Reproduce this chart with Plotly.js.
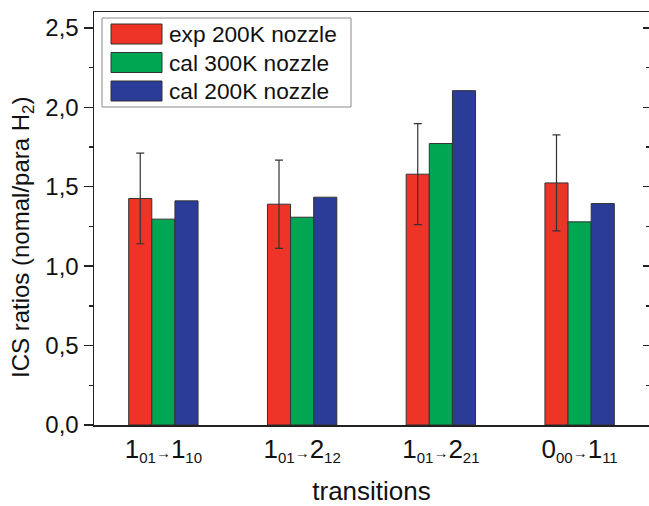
<!DOCTYPE html>
<html>
<head>
<meta charset="utf-8">
<script src="https://cdn.plot.ly/plotly-3.0.1.min.js"></script>
<style>html,body{margin:0;padding:0;background:#fff;overflow:hidden;}</style>
</head>
<body>
<div id="chart" style="width:649px;height:506px;"></div>
<script>
// ---- data ----
var categories = [0, 1, 2, 3];
var tickLabels = [
  "1<sub><span style='font-size:15px'>01</span></sub><span style='font-size:15px'>→</span>1<sub><span style='font-size:15px'>10</span></sub>",
  "1<sub><span style='font-size:15px'>01</span></sub><span style='font-size:15px'>→</span>2<sub><span style='font-size:15px'>12</span></sub>",
  "1<sub><span style='font-size:15px'>01</span></sub><span style='font-size:15px'>→</span>2<sub><span style='font-size:15px'>21</span></sub>",
  "0<sub><span style='font-size:15px'>00</span></sub><span style='font-size:15px'>→</span>1<sub><span style='font-size:15px'>11</span></sub>"
];
var seriesNames = ["exp 200K nozzle", "cal 300K nozzle", "cal 200K nozzle"];
var seriesColors = ["#EE3327", "#00A651", "#2A3C97"];
var exp200 = [1.426, 1.390, 1.579, 1.524];
var exp200Err = [0.285, 0.278, 0.318, 0.302];
var cal300 = [1.296, 1.308, 1.772, 1.279];
var cal200 = [1.411, 1.434, 2.105, 1.394];
var yTickVals = [0, 0.5, 1.0, 1.5, 2.0, 2.5];
var yTickText = ["0,0", "0,5", "1,0", "1,5", "2,0", "2,5"];

var FONT = "Arial, 'Liberation Sans', Helvetica, sans-serif";
var seriesValues = [exp200, cal300, cal200];

var traces = seriesValues.map(function (vals, i) {
  var t = {
    type: "bar",
    x: categories,
    y: vals,
    name: seriesNames[i],
    marker: { color: seriesColors[i], line: { color: "#333", width: 1 } },
    showlegend: false,
    hoverinfo: "skip"
  };
  if (i === 0) {
    t.error_y = { type: "data", array: exp200Err, visible: true, color: "#333", thickness: 1.2, width: 4 };
  }
  return t;
});
// dummy trace to carry the right-hand tick axis
traces.push({ type: "scatter", x: [0], y: [0], yaxis: "y2", mode: "none", showlegend: false, hoverinfo: "skip" });

// ---- custom legend (pixel layout -> paper coords) ----
var L = 94, R = 0, T = 12, B = 81, W = 649, H = 506;
var pw = W - L - R, ph = H - T - B;
function fx(px) { return (px - L) / pw; }
function fy(py) { return (H - B - py) / ph; }

var shapes = [{
  type: "rect", xref: "paper", yref: "paper",
  x0: fx(102), x1: fx(351), y0: fy(107), y1: fy(18),
  line: { color: "#8a8a8a", width: 1 }, fillcolor: "rgba(0,0,0,0)"
}];
var annotations = [];
var rowY = [34, 62.5, 91];
seriesNames.forEach(function (n, i) {
  shapes.push({
    type: "rect", xref: "paper", yref: "paper",
    x0: fx(111), x1: fx(162), y0: fy(rowY[i] + 10), y1: fy(rowY[i] - 10),
    line: { color: "#333", width: 1 }, fillcolor: seriesColors[i]
  });
  annotations.push({
    xref: "paper", yref: "paper", x: fx(167), y: fy(rowY[i]),
    xanchor: "left", yanchor: "middle", showarrow: false,
    text: n, font: { family: FONT, size: 22.7, color: "#111" }
  });
});
// y axis title
annotations.push({
  xref: "paper", yref: "paper", x: fx(23), y: fy(238),
  xanchor: "center", yanchor: "middle", showarrow: false, textangle: -90,
  text: "ICS ratios (nomal/para H<sub>2</sub>)",
  font: { family: FONT, size: 24, color: "#111" }
});

var layout = {
  width: W, height: H,
  margin: { l: L, r: R, t: T, b: B, pad: 0 },
  paper_bgcolor: "#fff", plot_bgcolor: "#fff",
  barmode: "group", bargap: 0.5, bargroupgap: 0,
  font: { family: FONT, color: "#111" },
  xaxis: {
    range: [-0.5, 3.5], tickvals: categories, ticktext: tickLabels,
    ticks: "", showgrid: false, zeroline: false,
    showline: true, linecolor: "#222", linewidth: 1.5, mirror: true,
    tickfont: { family: FONT, size: 26, color: "#111" },
    title: { text: "transitions", font: { family: FONT, size: 26, color: "#111" }, standoff: 16 },
    fixedrange: true
  },
  yaxis: {
    range: [0, 2.6], tickvals: yTickVals, ticktext: yTickText,
    ticks: "outside", ticklen: 9, tickwidth: 1.5, tickcolor: "#222",
    minor: { dtick: 0.25, ticks: "outside", ticklen: 4, tickwidth: 1.5, tickcolor: "#222", showgrid: false },
    showgrid: false, zeroline: false,
    showline: true, linecolor: "#222", linewidth: 1.5, mirror: false,
    tickfont: { family: FONT, size: 24, color: "#111" },
    fixedrange: true
  },
  yaxis2: {
    overlaying: "y", side: "right", range: [0, 2.6],
    tickvals: yTickVals, showticklabels: false,
    ticks: "inside", ticklen: 6, tickwidth: 1.5, tickcolor: "#222",
    minor: { dtick: 0.25, ticks: "inside", ticklen: 3, tickwidth: 1.5, tickcolor: "#222", showgrid: false },
    showgrid: false, zeroline: false, showline: false,
    fixedrange: true
  },
  shapes: shapes,
  annotations: annotations
};

Plotly.newPlot("chart", traces, layout, { displayModeBar: false, staticPlot: true });
</script>
</body>
</html>
